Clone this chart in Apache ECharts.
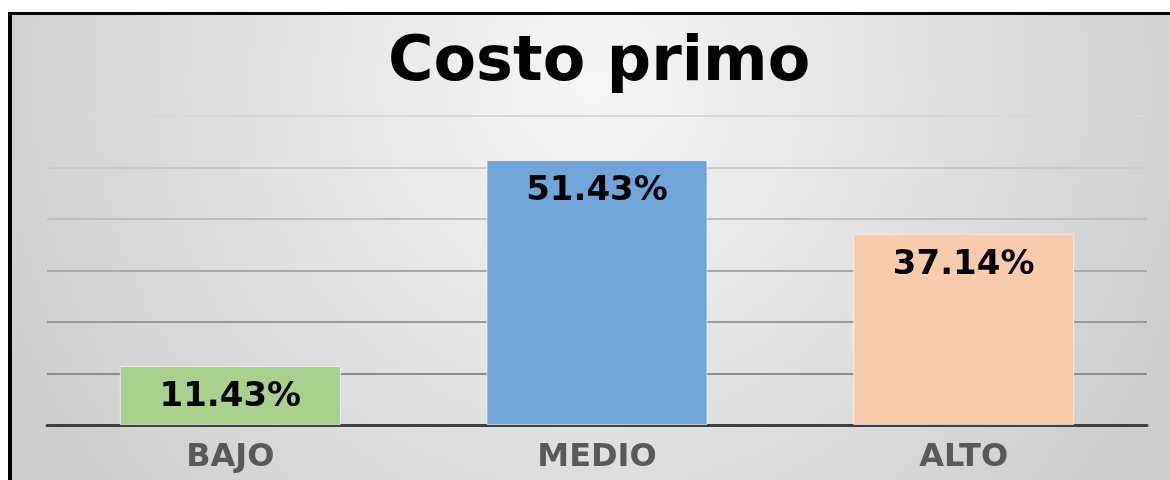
<!DOCTYPE html>
<html>
<head>
<meta charset="utf-8">
<script src="https://cdn.jsdelivr.net/npm/echarts@6/dist/echarts.min.js"></script>
<style>
  html, body { margin: 0; padding: 0; background: #fff; }
  #wrap { position: relative; width: 1170px; height: 480px; background: #fff; overflow: hidden; }
  #chart { position: absolute; left: 8px; top: 12px; width: 1162px; height: 468px;
           border-left: 4px solid #000; border-top: 3px solid #000; box-sizing: border-box; }
</style>
</head>
<body>
<div id="wrap"><div id="chart"></div></div>
<script>
// datos del grafico
var titulo = 'Costo primo';
var categorias = ['BAJO', 'MEDIO', 'ALTO'];
var valores = [11.43, 51.43, 37.14];
var colores = ['#a9d18e', '#6fa5d8', '#f8cbad'];
var escalaMax = 60;
var escalaPaso = 10;

var chart = echarts.init(document.getElementById('chart'));

var option = {
    backgroundColor: {
        type: 'radial', x: 0.5, y: 0.15, r: 1.4,
        colorStops: [
            {offset: 0, color: '#f6f6f6'},
            {offset: 0.5, color: '#e2e2e2'},
            {offset: 1, color: '#cdcdcd'}
        ]
    },
    title: {
        text: titulo,
        left: 376,
        top: 18,
        padding: 0,
        textStyle: {fontFamily: 'DejaVu Sans', fontWeight: 'bold', fontSize: 62, color: '#000'}
    },
    grid: {left: 35, right: 23, top: 101, bottom: 55},
    xAxis: {
        type: 'category',
        data: categorias,
        axisTick: {show: false},
        axisLine: {lineStyle: {color: '#404040', width: 3}},
        axisLabel: {
            margin: 17,
            fontFamily: 'DejaVu Sans', fontWeight: 'bold', fontSize: 32, color: '#595959'
        }
    },
    yAxis: {
        type: 'value',
        min: 0,
        max: escalaMax,
        interval: escalaPaso,
        axisLabel: {show: false},
        axisLine: {show: false},
        axisTick: {show: false},
        splitLine: {
            lineStyle: {
                width: 2,
                color: ['#8c8c8c', '#8c8c8c', '#9a9a9a', '#aaaaaa', '#bdbdbd', '#cbcbcb', '#d8d8d8']
            }
        }
    },
    series: [{
        type: 'bar',
        barWidth: 221,
        data: valores.map(function (v, i) {
            return {value: v, itemStyle: {color: colores[i]}};
        }),
        itemStyle: {borderColor: 'rgba(255,255,255,0.6)', borderWidth: 1},
        label: {
            show: true,
            position: 'insideTop',
            distance: 14,
            formatter: function (p) { return p.value.toFixed(2) + '%'; },
            fontFamily: 'DejaVu Sans', fontWeight: 'bold', fontSize: 34, color: '#000'
        }
    }]
};

chart.setOption(option);
</script>
</body>
</html>
